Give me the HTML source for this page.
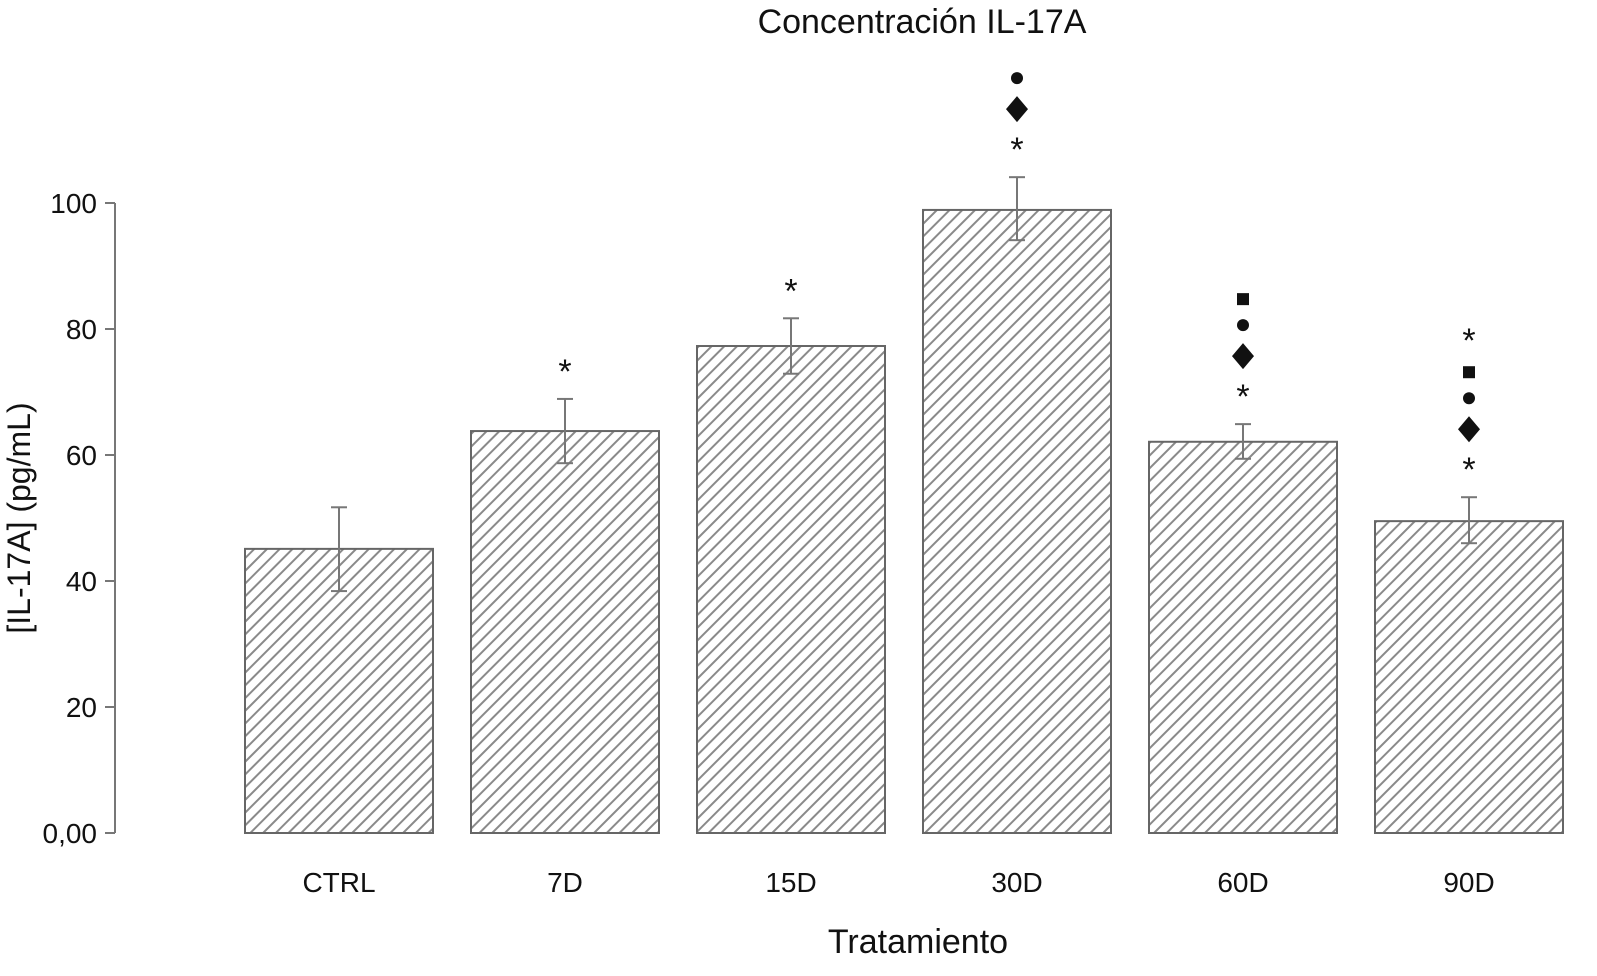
<!DOCTYPE html>
<html><head><meta charset="utf-8"><style>
body{margin:0;background:#fff;}
svg{display:block;font-family:"Liberation Sans",sans-serif;}
</style></head><body>
<svg id="chart" width="1597" height="976" viewBox="0 0 1597 976" xmlns="http://www.w3.org/2000/svg">
<defs>
<pattern id="hatch" patternUnits="userSpaceOnUse" width="9" height="9" patternTransform="rotate(45)">
<rect width="9" height="9" fill="#fff"/>
<line x1="0" y1="0" x2="0" y2="9" stroke="#8a8a8a" stroke-width="4"/>
</pattern>
</defs>
<text x="922" y="33" font-size="34" text-anchor="middle" fill="#111">Concentración IL-17A</text>
<text transform="translate(30,518) rotate(-90)" font-size="32" text-anchor="middle" fill="#111">[IL-17A] (pg/mL)</text>
<text x="918" y="953" font-size="34" text-anchor="middle" fill="#111">Tratamiento</text>
<g id="axis"></g>
<g id="bars"></g>
</svg>
<script>
const categories=["CTRL","7D","15D","30D","60D","90D"];
const values=[45.1,63.8,77.3,98.9,62.1,49.5];
const errLow=[38.4,58.7,72.9,94.1,59.4,46.0];
const errHigh=[51.7,68.9,81.7,104.1,64.9,53.3];
const markers=[[],["*"],["*"],["*","d","c"],["*","d","c","s"],["*","d","c","s","*"]];
const yTicks=[0,20,40,60,80,100];
const yTickLabels=["0,00","20","40","60","80","100"];
const NS="http://www.w3.org/2000/svg";
const y0=833,pxPer=6.3;
function y(v){return y0-v*pxPer;}
const barLeft0=245,step=226,barW=188;
function xc(i){return barLeft0+i*step+barW/2;}
function mk(tag,attrs,parent){const e=document.createElementNS(NS,tag);for(const k in attrs)e.setAttribute(k,attrs[k]);parent.appendChild(e);return e;}
const ax=document.getElementById('axis');
const al=mk('line',{x1:115,x2:115,y1:y(100),y2:y(0),stroke:'#777','stroke-width':2},ax);


yTicks.forEach((t,i)=>{
 const tk=mk('line',{x1:105,x2:115,y1:y(t),y2:y(t),stroke:'#777','stroke-width':2},ax);
 
 
 const tx=mk('text',{x:97,y:y(t)+10,'font-size':28,'text-anchor':'end',fill:'#111'},ax);
 tx.textContent=yTickLabels[i];
 
 
});
const bg=document.getElementById('bars');
categories.forEach((c,i)=>{
 const cx=xc(i);
 const r=mk('rect',{x:cx-barW/2,y:y(values[i]),width:barW,height:y(0)-y(values[i]),fill:'url(#hatch)',stroke:'#666','stroke-width':2},bg);
 
 
 const eg=mk('g',{stroke:'#777','stroke-width':2},bg);
 
 
 mk('line',{x1:cx,x2:cx,y1:y(errHigh[i]),y2:y(errLow[i])},eg);
 mk('line',{x1:cx-8,x2:cx+8,y1:y(errHigh[i]),y2:y(errHigh[i])},eg);
 mk('line',{x1:cx-8,x2:cx+8,y1:y(errLow[i]),y2:y(errLow[i])},eg);
 const lb=mk('text',{x:cx,y:892,'font-size':28,'text-anchor':'middle',fill:'#111'},bg);
 lb.textContent=c;
 
 
 let my=y(errHigh[i])-32;
 markers[i].forEach((m,j)=>{
  let el;
  if(m==="*"){el=mk('text',{x:cx,y:my+16,'font-size':34,'text-anchor':'middle',fill:'#111'},bg);el.textContent='*';}
  else if(m==="d"){el=mk('polygon',{points:`${cx},${my-13} ${cx+11},${my} ${cx},${my+13} ${cx-11},${my}`,fill:'#111'},bg);}
  else if(m==="c"){el=mk('circle',{cx:cx,cy:my,r:6,fill:'#111'},bg);}
  else {el=mk('rect',{x:cx-6,y:my-6,width:12,height:12,fill:'#111'},bg);}
  
  
  const nx=markers[i][j+1];
  my-= (m==="*"||nx==="*")?36:(m==="d"?31:26);
 });
});
</script>
</body></html>
